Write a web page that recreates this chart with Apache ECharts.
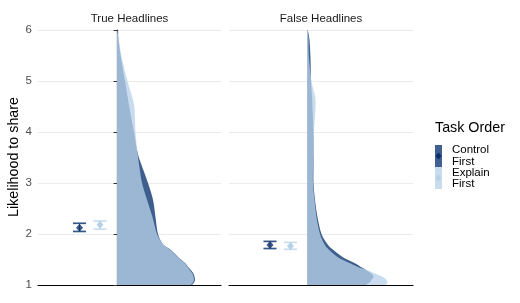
<!DOCTYPE html>
<html>
<head>
<meta charset="utf-8">
<script src="https://cdn.jsdelivr.net/npm/echarts@6/dist/echarts.min.js"></script>
<style>
html,body{margin:0;padding:0;background:#fff;}
#c{width:520px;height:303px;}
</style>
</head>
<body>
<div id="c"></div>
<script>
// ---- data ----
const panels = ['True Headlines', 'False Headlines'];
const groups = ['Control\nFirst', 'Explain\nFirst'];
const yTicks = [1, 2, 3, 4, 5, 6];

// point estimates with error bars
const trueMeans = [2.125, 2.18];
const trueLow   = [2.05, 2.095];
const trueHigh  = [2.21, 2.255];
const falseMeans = [1.785, 1.765];
const falseLow   = [1.715, 1.70];
const falseHigh  = [1.855, 1.835];

// half-violin density profiles (width of density at each level)
const densityLevels = [1.0, 1.05, 1.1, 1.16, 1.22, 1.29, 1.36, 1.43, 1.55, 1.7, 1.8, 2.0, 2.33, 2.67, 3.0, 3.3, 3.6, 4.0, 4.47, 4.7, 5.0, 5.45, 5.8, 6.0];
const trueControlDensity  = [75, 77, 78, 77.5, 76.5, 74, 71, 68, 61, 53, 46, 41, 38.5, 36, 31, 25.5, 20.5, 17, 12.5, 10.5, 8, 4, 1.5, 0.3];
const trueExplainDensity  = [74, 76, 77, 76.5, 75.5, 73, 70.5, 67.5, 60.5, 52.5, 46, 40, 35.5, 30, 25, 22.5, 20.5, 18.5, 17.5, 15, 10.5, 4.8, 2, 0.3];
const falseControlDensity = [58, 62, 64, 66, 64, 59, 53, 47, 35, 25, 20, 14, 10, 7.5, 6, 6, 6, 6, 5, 4.5, 3.5, 3, 2, 0.3];
const falseExplainDensity = [78, 80, 79, 75, 68, 60, 50, 42, 30, 21, 17, 12.5, 9, 7, 5.5, 5.5, 6, 6.5, 8, 7.5, 4, 1.5, 1, 0.3];

// ---- layout / style ----
const FONT = "'Liberation Sans', Arial, Helvetica, sans-serif";
const pointX = [-37.5, -17];   // x positions of the two point estimates
const violinBase = 0;          // x of the half-violin baseline
const darkFill = '#3e5f8e';
const lightFill = 'rgba(184,210,233,0.77)';
const barColors = ['#375689', '#c9ddef'];
const pointColors = ['#0b2e6b', '#a9c8e4'];

function smoothPath(base0, curve, base1) {
  // straight baseline, smooth (Catmull-Rom as cubic Bezier) outer edge
  let d = 'M' + base0[0] + ' ' + base0[1] + ' L' + curve[0][0] + ' ' + curve[0][1];
  const n = curve.length;
  for (let i = 0; i < n - 1; i++) {
    const p0 = curve[Math.max(i - 1, 0)], p1 = curve[i], p2 = curve[i + 1], p3 = curve[Math.min(i + 2, n - 1)];
    const c1 = [p1[0] + (p2[0] - p0[0]) / 6, p1[1] + (p2[1] - p0[1]) / 6];
    const c2 = [p2[0] - (p3[0] - p1[0]) / 6, p2[1] - (p3[1] - p1[1]) / 6];
    d += ' C' + c1[0] + ' ' + c1[1] + ' ' + c2[0] + ' ' + c2[1] + ' ' + p2[0] + ' ' + p2[1];
  }
  d += ' L' + base1[0] + ' ' + base1[1] + ' Z';
  return d;
}

function violinSeries(gi, dens, fill, z) {
  return {
    type: 'custom', xAxisIndex: gi, yAxisIndex: gi, z: z, silent: true,
    data: [[violinBase, densityLevels[0]]],
    clip: true,
    renderItem: function (params, api) {
      const curve = densityLevels.map((lv, i) => api.coord([violinBase + dens[i], lv]));
      const b0 = api.coord([violinBase, densityLevels[0]]);
      const b1 = api.coord([violinBase, densityLevels[densityLevels.length - 1]]);
      return { type: 'path', shape: { pathData: smoothPath(b0, curve, b1) }, style: { fill: fill, stroke: null } };
    }
  };
}

function errorSeries(gi, lows, highs) {
  const data = lows.map((l, i) => [pointX[i], l, highs[i], i]);
  return {
    type: 'custom', xAxisIndex: gi, yAxisIndex: gi, z: 5, silent: true,
    data: data,
    renderItem: function (params, api) {
      const x = api.value(0), lo = api.value(1), hi = api.value(2), k = api.value(3);
      const pLo = api.coord([x, lo]), pHi = api.coord([x, hi]);
      const c = barColors[k];
      const hw = 6.5;
      return {
        type: 'group',
        children: [
          { type: 'line', shape: { x1: pLo[0], y1: pLo[1], x2: pHi[0], y2: pHi[1] }, style: { stroke: c, lineWidth: 1 } },
          { type: 'line', shape: { x1: pLo[0] - hw, y1: pLo[1], x2: pLo[0] + hw, y2: pLo[1] }, style: { stroke: c, lineWidth: 1.7 } },
          { type: 'line', shape: { x1: pHi[0] - hw, y1: pHi[1], x2: pHi[0] + hw, y2: pHi[1] }, style: { stroke: c, lineWidth: 1.7 } }
        ]
      };
    }
  };
}

function pointSeries(gi, means) {
  return {
    type: 'scatter', xAxisIndex: gi, yAxisIndex: gi, z: 6, silent: true,
    symbol: 'diamond', symbolSize: [7, 8],
    data: means.map((m, i) => ({ value: [pointX[i], m], itemStyle: { color: pointColors[i] } }))
  };
}

const xRanges = [[-79, 104], [-78.5, 105.5]];
const gridLefts = [38, 229];
const gridWidths = [183, 184];

const option = {
  animation: false,
  backgroundColor: '#fff',
  textStyle: { fontFamily: FONT },
  grid: [0, 1].map(i => ({ left: gridLefts[i], top: 30, width: gridWidths[i], height: 255, containLabel: false })),
  xAxis: [0, 1].map(i => ({
    gridIndex: i, type: 'value', min: xRanges[i][0], max: xRanges[i][1],
    axisLine: { show: true, onZero: false, lineStyle: { color: '#000', width: 1.2 } },
    axisTick: { show: false }, axisLabel: { show: false }, splitLine: { show: false }
  })),
  yAxis: [0, 1].map(i => ({
    gridIndex: i, type: 'value', min: yTicks[0], max: yTicks[yTicks.length - 1], interval: 1,
    axisLine: { show: i === 0, lineStyle: { color: '#000', width: 1.2 } },
    axisTick: { show: i === 0, length: 3.5, lineStyle: { color: '#333' } },
    axisLabel: { show: i === 0, color: '#4d4d4d', fontSize: 11.5, margin: 6, fontFamily: FONT },
    splitLine: { show: true, lineStyle: { color: '#ebebeb', width: 1 } }
  })),
  series: [
    violinSeries(0, trueControlDensity, darkFill, 2),
    violinSeries(0, trueExplainDensity, lightFill, 3),
    violinSeries(1, falseControlDensity, darkFill, 2),
    violinSeries(1, falseExplainDensity, lightFill, 3),
    errorSeries(0, trueLow, trueHigh),
    errorSeries(1, falseLow, falseHigh),
    pointSeries(0, trueMeans),
    pointSeries(1, falseMeans)
  ],
  graphic: [
    { type: 'text', x: 38 + 183 / 2, y: 19, style: { text: panels[0], fill: '#1a1a1a', font: '11.5px ' + FONT, align: 'center', verticalAlign: 'middle' } },
    { type: 'text', x: 229 + 184 / 2, y: 19, style: { text: panels[1], fill: '#1a1a1a', font: '11.5px ' + FONT, align: 'center', verticalAlign: 'middle' } },
    { type: 'text', x: 14, y: 157, rotation: Math.PI / 2, style: { text: 'Likelihood to share', fill: '#000', font: '14.3px ' + FONT, align: 'center', verticalAlign: 'middle' } },
    { type: 'text', x: 435, y: 128, style: { text: 'Task Order', fill: '#000', font: '14.3px ' + FONT, align: 'left', verticalAlign: 'middle' } },
    { type: 'rect', shape: { x: 435, y: 145, width: 7, height: 22 }, style: { fill: '#3f6090' } },
    { type: 'rect', shape: { x: 435, y: 167, width: 7, height: 22 }, style: { fill: '#c8dcee' } },
    { type: 'polygon', shape: { points: [[438.5, 152.5], [441.5, 156], [438.5, 159.5], [435.5, 156]] }, style: { fill: pointColors[0] } },
    { type: 'polygon', shape: { points: [[438.5, 174.5], [441.5, 178], [438.5, 181.5], [435.5, 178]] }, style: { fill: '#b5d0e8' } },
    { type: 'text', x: 452, y: 156, style: { text: groups[0], fill: '#000', font: '11.5px ' + FONT, lineHeight: 11.5, align: 'left', verticalAlign: 'middle' } },
    { type: 'text', x: 452, y: 178.5, style: { text: groups[1], fill: '#000', font: '11.5px ' + FONT, lineHeight: 11.5, align: 'left', verticalAlign: 'middle' } }
  ]
};

const chart = echarts.init(document.getElementById('c'), null, { renderer: 'canvas' });
chart.setOption(option);
</script>
</body>
</html>
